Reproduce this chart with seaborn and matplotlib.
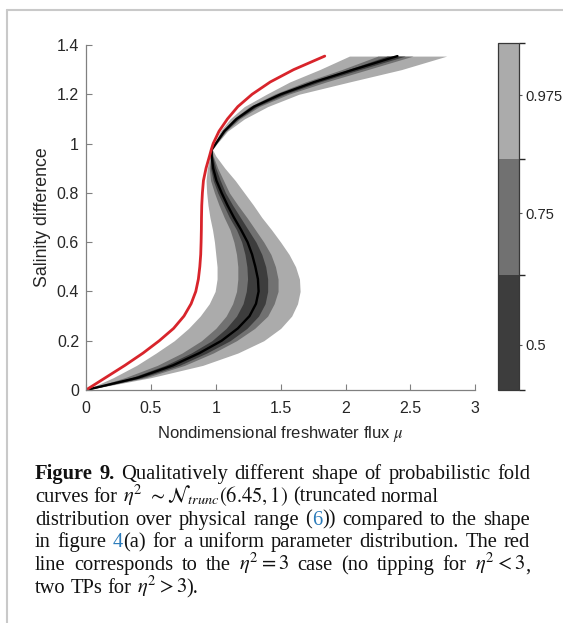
import matplotlib
matplotlib.use("Agg")
import matplotlib.pyplot as plt
import matplotlib.cm as cm
from matplotlib.colors import ListedColormap, BoundaryNorm
from matplotlib.lines import Line2D
from matplotlib.ticker import FormatStrFormatter
import pandas as pd
import seaborn as sns

# Salinity difference levels at which the fold-curve quantiles are given
salinity = [0.00, 0.05, 0.10, 0.15, 0.20, 0.25, 0.30, 0.35, 0.40, 0.45,
            0.50, 0.55, 0.60, 0.65, 0.70, 0.75, 0.80, 0.85, 0.90, 0.95,
            0.975, 1.00, 1.05, 1.10, 1.15, 1.20, 1.25, 1.30, 1.355]

# Freshwater flux bounds of the 97.5 %, 75 % and 50 % bands, plus median
light_lo = [0, 0.21, 0.39, 0.54, 0.68, 0.79, 0.88, 0.95, 0.995, 1.01,
            1.01, 1.00, 0.99, 0.975, 0.955, 0.94, 0.93, 0.925, 0.935, 0.955,
            0.965, 0.99, 1.035, 1.11, 1.22, 1.39, 1.57, 1.80, 2.03]
mid_lo = [0, 0.30, 0.55, 0.74, 0.89, 1.00, 1.08, 1.13, 1.16, 1.17,
          1.17, 1.16, 1.14, 1.11, 1.065, 1.025, 0.99, 0.96, 0.95, 0.96,
          0.966, 0.995, 1.05, 1.135, 1.26, 1.45, 1.69, 1.97, 2.25]
dark_lo = [0, 0.35, 0.61, 0.81, 0.97, 1.08, 1.16, 1.21, 1.235, 1.245,
           1.24, 1.225, 1.20, 1.16, 1.105, 1.06, 1.015, 0.98, 0.96, 0.962,
           0.967, 0.997, 1.057, 1.147, 1.278, 1.475, 1.73, 2.02, 2.32]
median_mu = [0, 0.40, 0.67, 0.875, 1.045, 1.17, 1.26, 1.31, 1.33, 1.325,
             1.305, 1.28, 1.245, 1.195, 1.14, 1.09, 1.045, 1.005, 0.98, 0.968,
             0.968, 1.00, 1.065, 1.16, 1.295, 1.50, 1.76, 2.06, 2.40]
dark_hi = [0, 0.43, 0.72, 0.93, 1.11, 1.24, 1.33, 1.38, 1.40, 1.40,
           1.385, 1.355, 1.31, 1.25, 1.19, 1.13, 1.075, 1.035, 1.00, 0.975,
           0.969, 1.003, 1.072, 1.172, 1.315, 1.53, 1.80, 2.11, 2.46]
mid_hi = [0, 0.46, 0.76, 0.98, 1.16, 1.30, 1.40, 1.45, 1.48, 1.48,
          1.46, 1.425, 1.37, 1.305, 1.24, 1.17, 1.105, 1.06, 1.015, 0.98,
          0.97, 1.005, 1.08, 1.185, 1.335, 1.56, 1.85, 2.17, 2.52]
light_hi = [0, 0.50, 0.90, 1.17, 1.37, 1.50, 1.585, 1.63, 1.65, 1.645,
            1.615, 1.565, 1.50, 1.43, 1.355, 1.29, 1.22, 1.15, 1.07, 1.00,
            0.975, 1.01, 1.09, 1.22, 1.40, 1.64, 2.03, 2.43, 2.78]

# Deterministic fold curve for eta^2 = 3
red_mu = [0, 0.15, 0.30, 0.44, 0.565, 0.675, 0.755, 0.81, 0.846, 0.866,
          0.877, 0.884, 0.887, 0.889, 0.890, 0.892, 0.897, 0.905, 0.925, 0.952,
          0.965, 0.98, 1.025, 1.09, 1.17, 1.28, 1.42, 1.60, 1.84]

# Colour bar: probability levels and their band colours
level_ticks = [0.5, 0.75, 0.975]
level_labels = ["0.5", "0.75", "0.975"]
level_bounds = [0.414, 0.633, 0.853, 1.074]
band_colors = ["#3d3d3d", "#717171", "#ababab"]

x_ticks = [0, 0.5, 1, 1.5, 2, 2.5, 3]
y_ticks = [0, 0.2, 0.4, 0.6, 0.8, 1.0, 1.2, 1.4]

sns.set_theme(style="white")
plt.rcParams["font.family"] = ["Liberation Sans", "DejaVu Sans"]
plt.rcParams["mathtext.fontset"] = "stix"

W, H = 563, 623
fig = plt.figure(figsize=(W / 100, H / 100), dpi=100)
fig.patch.set_facecolor("white")

ax = fig.add_axes([86 / W, 1 - 390 / H, (475.3 - 86) / W, (390 - 45) / H])
ax.set_facecolor("white")

ax.fill_betweenx(salinity, light_lo, light_hi, color=band_colors[2], lw=0)
ax.fill_betweenx(salinity, mid_lo, mid_hi, color=band_colors[1], lw=0)
ax.fill_betweenx(salinity, dark_lo, dark_hi, color=band_colors[0], lw=0)

curves = pd.DataFrame({"s": salinity, "median": median_mu, "red": red_mu})
sns.lineplot(data=curves, x="median", y="s", sort=False, estimator=None,
             color="black", lw=1.7, ax=ax)
sns.lineplot(data=curves, x="red", y="s", sort=False, estimator=None,
             color="#d8242b", lw=2.0, ax=ax)

ax.set_xlim(0, 3)
ax.set_ylim(0, 1.4)
ax.set_xticks(x_ticks)
ax.set_yticks(y_ticks)
ax.xaxis.set_major_formatter(FormatStrFormatter("%g"))
ax.yaxis.set_major_formatter(FormatStrFormatter("%g"))
for side in ("top", "right"):
    ax.spines[side].set_visible(False)
for side in ("left", "bottom"):
    ax.spines[side].set_color("#808080")
    ax.spines[side].set_linewidth(0.9)
ax.tick_params(axis="both", direction="in", length=4, width=0.8,
               color="#808080", labelcolor="#262626", labelsize=11.5,
               bottom=True, left=True)
ax.tick_params(axis="x", pad=8)
ax.tick_params(axis="y", pad=5)
ax.set_xlabel("Nondimensional freshwater flux $\\mu$", fontsize=12,
              color="#262626", labelpad=6)
ax.set_ylabel("Salinity difference", fontsize=12.8, color="#262626",
              labelpad=4)

cax = fig.add_axes([498.3 / W, 1 - 390 / H, 21 / W, 346.7 / H])
cmap = ListedColormap(band_colors)
norm = BoundaryNorm(level_bounds, cmap.N)
cb = fig.colorbar(cm.ScalarMappable(norm=norm, cmap=cmap), cax=cax,
                  ticks=level_ticks, spacing="proportional")
cb.ax.set_yticklabels(level_labels)
cb.outline.set_edgecolor("#383838")
cb.outline.set_linewidth(0.9)
cb.ax.tick_params(direction="out", length=2.5, width=0.8, color="#555555",
                  labelsize=10.6, labelcolor="#262626", pad=2)

# Page frame lines
frame = "#c9c9c9"
fig.add_artist(Line2D([7.5 / W, 7.5 / W], [0, 1 - 10 / H],
                      transform=fig.transFigure, color=frame, lw=1.5))
fig.add_artist(Line2D([7.5 / W, 1], [1 - 10 / H, 1 - 10 / H],
                      transform=fig.transFigure, color=frame, lw=1.5))

# Caption
renderer = fig.canvas.get_renderer()
cap_size = 14.8
serif = ["Liberation Serif", "DejaVu Serif"]
styles = {
    "n": dict(color="#111111", weight="normal"),
    "b": dict(color="#111111", weight="bold"),
    "l": dict(color="#2b7bba", weight="normal"),
}


def place_line(words, baseline, justify, x0=35, x1=530):
    made = []
    for word in words:
        parts = []
        width = 0.0
        for text, style in word:
            t = fig.text(0, 1 - baseline / H, text, fontsize=cap_size,
                         family=serif, va="baseline", ha="left",
                         **styles[style])
            w = t.get_window_extent(renderer).width
            parts.append((t, w))
            width += w
        made.append((parts, width))
    total = sum(w for _, w in made)
    space = cap_size * 100 / 72 * 0.25
    if justify and len(made) > 1:
        space = (x1 - x0 - total) / (len(made) - 1)
    x = x0
    for parts, width in made:
        for t, w in parts:
            t.set_x(x / W)
            x += w
        x += space


def words_of(text, style="n"):
    return [[(w, style)] for w in text.split()]


caption = [
    (words_of("Figure 9.", "b") + words_of("Qualitatively different shape of probabilistic fold"), True),
    (words_of("curves for") + [[(r"$\eta^2$", "n")],
                               [(r"$\sim\mathcal{N}_{trunc}(6.45,1)$", "n")]]
     + words_of("(truncated normal"), False),
    (words_of("distribution over physical range")
     + [[("(", "n"), ("6", "l"), ("))", "n")]]
     + words_of("compared to the shape"), True),
    (words_of("in figure") + [[("4", "l"), ("(a)", "n")]]
     + words_of("for a uniform parameter distribution. The red"), True),
    (words_of("line corresponds to the") + [[(r"$\eta^2=3$", "n")]]
     + words_of("case (no tipping for") + [[(r"$\eta^2<3$", "n"), (",", "n")]], True),
    (words_of("two TPs for") + [[(r"$\eta^2>3$", "n"), (").", "n")]], False),
]
for i, (words, just) in enumerate(caption):
    place_line(words, 479 + 22.8 * i, just)

fig.savefig("out.png", dpi=100, facecolor="white")
